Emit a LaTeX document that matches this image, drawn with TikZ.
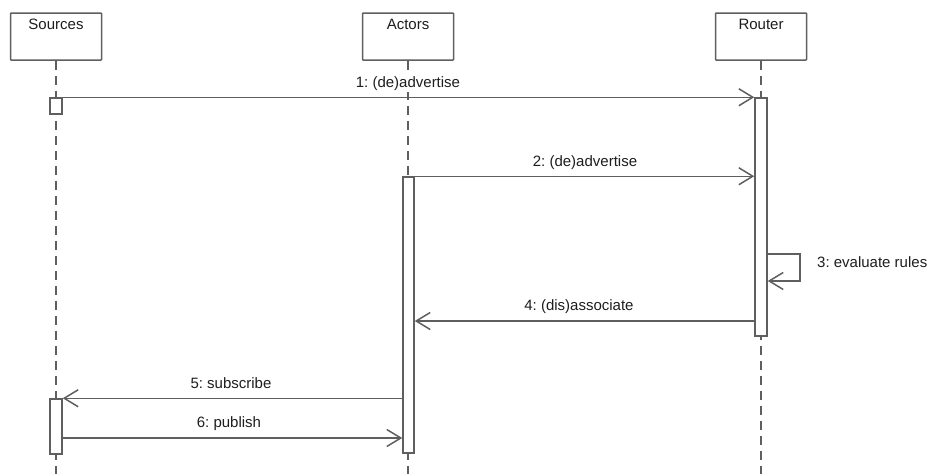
\documentclass[tikz,border=0pt]{standalone}
\usepackage{fontspec}
\setmainfont{Liberation Sans}
\usetikzlibrary{arrows.meta}
\frenchspacing
\definecolor{linec}{RGB}{95,95,95}
\definecolor{textc}{RGB}{30,30,30}
\begin{document}
\begin{tikzpicture}[x=1pt,y=-1pt,
  head/.style={draw=linec,fill=white,line width=1.5pt,minimum width=91pt,minimum height=47pt,inner sep=0pt,rounded corners=0.6pt},
  bar/.style={draw=linec,fill=white,line width=1.5pt,minimum width=12pt,inner sep=0pt},
  life/.style={draw=linec,line width=1.5pt,dash pattern=on 9pt off 6pt},
  msg/.style={draw=linec,line width=1.5pt,-{Straight Barb[length=14pt,width=17pt,line width=1.5pt]}},
  lbl/.style={text=textc,font=\fontsize{15}{18}\selectfont,inner sep=1.5pt,fill=white,anchor=base}]
\useasboundingbox (0,0) rectangle (931,474);

% lifeline heads
\node[head] (src) at (56,36.5) {};
\node[head] (act) at (408,36.5) {};
\node[head] (rtr) at (761,36.5) {};
\node[lbl] (srct) at (56,29) {Sources};
\node[lbl] (actt) at (408,29) {Actors};
\node[lbl] (rtrt) at (761,29) {Router};

% dashed lifelines
\draw[life] (src.south) -- (src.south |- 0,474);
\draw[life] (act.south) -- (act.south |- 0,474);
\draw[life] (rtr.south) -- (rtr.south |- 0,474);

% activation bars
\node[bar,minimum height=16pt] (sa1) at (56,106) {};
\node[bar,minimum height=238pt] (ra) at (761,217) {};
\node[bar,minimum height=276pt,minimum width=11pt] (aa) at (408.5,315) {};
\node[bar,minimum height=55pt] (sa2) at (56,426.5) {};

% messages
\draw[msg] (sa1.north east) -- (ra.north west);
\node[lbl] (l1) at (408,87) {1: (de)advertise};

\draw[msg] (aa.north east) -- (aa.north east -| ra.west);
\node[lbl] (l2) at (585,166) {2: (de)advertise};

\draw[msg] (ra.east |- 0,254) -- ++(32,0) -- ++(0,27) -- (ra.east |- 0,281);
\node[lbl,anchor=base west] (l3) at (815.5,267) {3: evaluate rules};

\draw[msg] (ra.west |- 0,321) -- (aa.east |- 0,321);
\node[lbl] (l4) at (579,310) {4: (dis)associate};

\draw[msg] (aa.west |- sa2.north) -- (sa2.north east);
\node[lbl] (l5) at (231,388) {5: subscribe};

\draw[msg] (sa2.east |- 0,438) -- (aa.west |- 0,438);
\node[lbl] (l6) at (229,427) {6: publish};
\end{tikzpicture}
\end{document}
